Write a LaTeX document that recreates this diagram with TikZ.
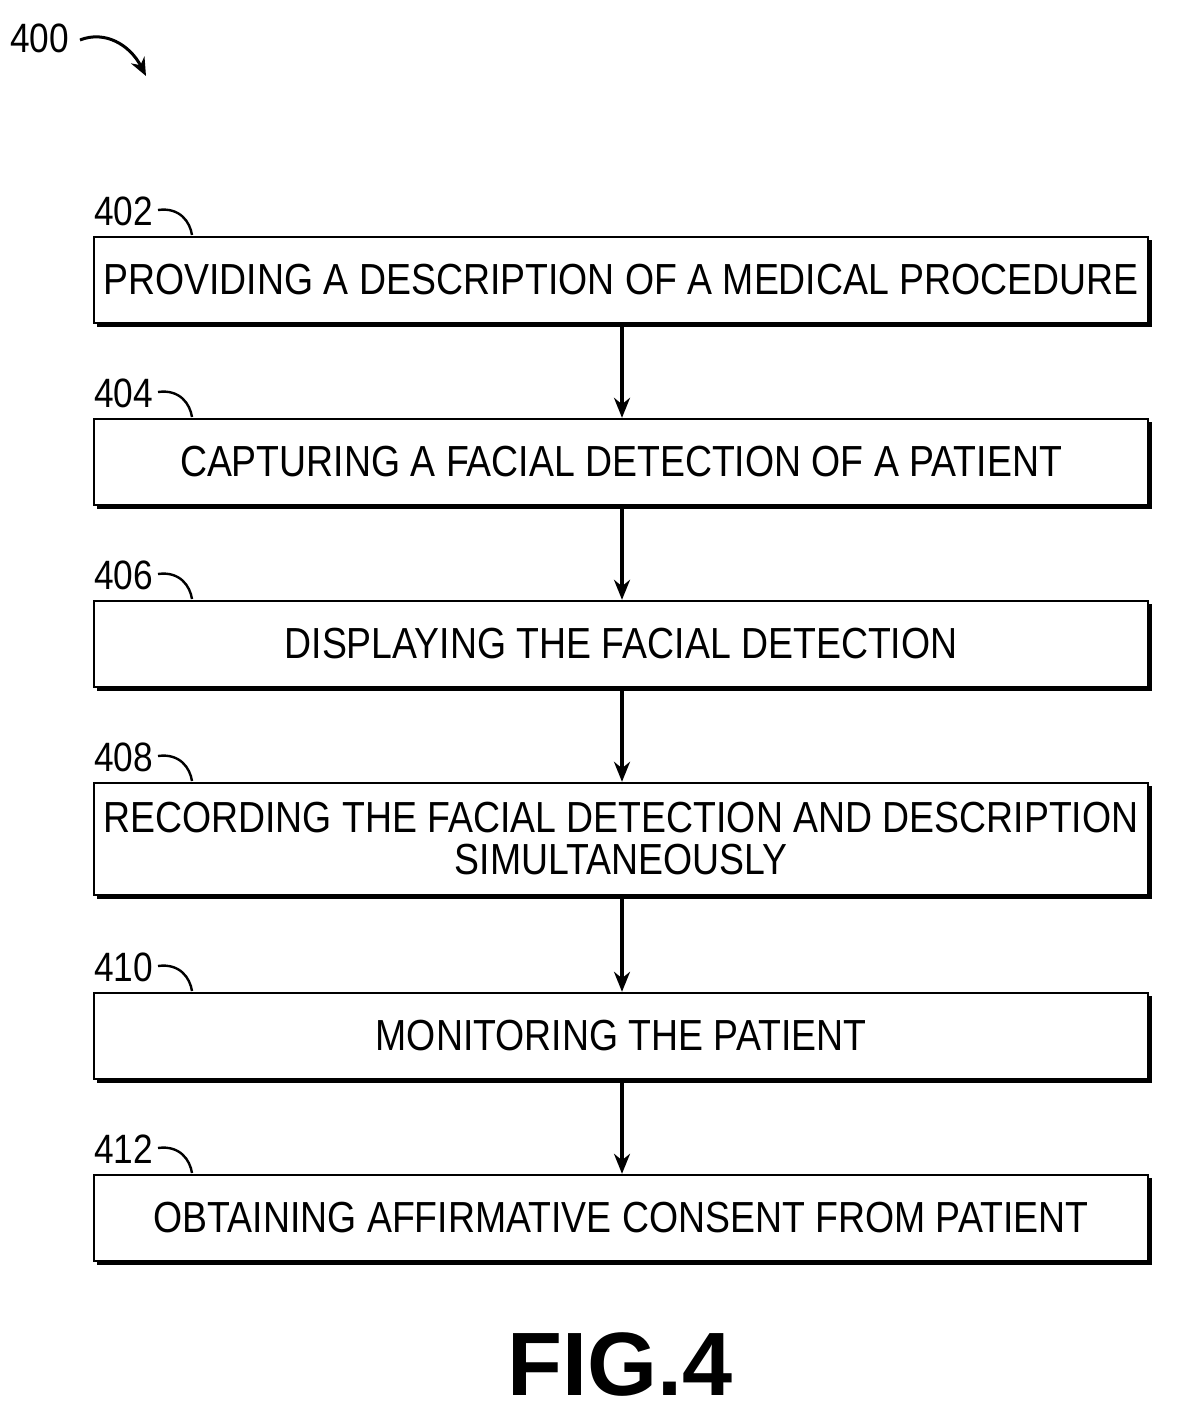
\documentclass[tikz,border=0pt]{standalone}
\usetikzlibrary{arrows.meta}
\usepackage{fontspec}
\setmainfont[FakeStretch=0.86]{Liberation Sans}
\newfontfamily\figfont{Liberation Sans}
\begin{document}
\begin{tikzpicture}[x=1pt,y=-1pt,
  box/.style={draw,line width=2.4pt,minimum width=1054pt,inner sep=0pt,align=center,font=\fontsize{43.5}{44}\selectfont},
  arr/.style={line width=3.2pt,-{Stealth[length=20pt,width=16pt]}},
  lbl/.style={font=\fontsize{41}{44}\selectfont},
  hook/.style={line width=2.4pt}]
\useasboundingbox (0,0) rectangle (1176,1419);
\def\bx#1#2#3#4{%
  \fill (97,#3) rectangle (1152,#3+4);
  \fill (1148,#2+3) rectangle (1152,#3+4);
  \node[box,minimum height=#3-#2] (#1) at (621,{(#2+#3)/2}) {#4};}
\bx{b402}{237}{323}{PROVIDING A DESCRIPTION OF A MEDICAL PROCEDURE}
\bx{b404}{419}{505}{CAPTURING A FACIAL DETECTION OF A PATIENT}
\bx{b406}{601}{687}{DISPLAYING THE FACIAL DETECTION}
\bx{b408}{783}{895}{RECORDING THE FACIAL DETECTION AND DESCRIPTION\\[-2pt]SIMULTANEOUSLY}
\bx{b410}{993}{1079}{MONITORING THE PATIENT}
\bx{b412}{1175}{1261}{OBTAINING AFFIRMATIVE CONSENT FROM PATIENT}
\foreach \a/\b in {b402/b404,b404/b406,b406/b408,b408/b410,b410/b412}
  \draw[arr] ([xshift=1pt]\a.south) -- ([xshift=1pt]\b.north);
\foreach \n/\y in {402/237,404/419,406/601,408/783,410/993,412/1175}{
  \node[lbl,anchor=base west,inner sep=0pt] (l\n) at (94,\y-12) {\n};
  \draw[hook] (158,\y-27) .. controls (180,\y-30) and (190,\y-15) .. (192,\y-2);}
\node[lbl,anchor=base west,inner sep=0pt] (l400) at (10,52) {400};
\coordinate (t400) at (146,76);
\draw[line width=3pt,-{Stealth[length=18pt,width=15pt]}] (80,40) .. controls (105,30) and (130,45) .. (t400);
\node[font=\figfont\bfseries\fontsize{90}{90}\selectfont] (fig) at (620,1365) {FIG.4};
\end{tikzpicture}
\end{document}
